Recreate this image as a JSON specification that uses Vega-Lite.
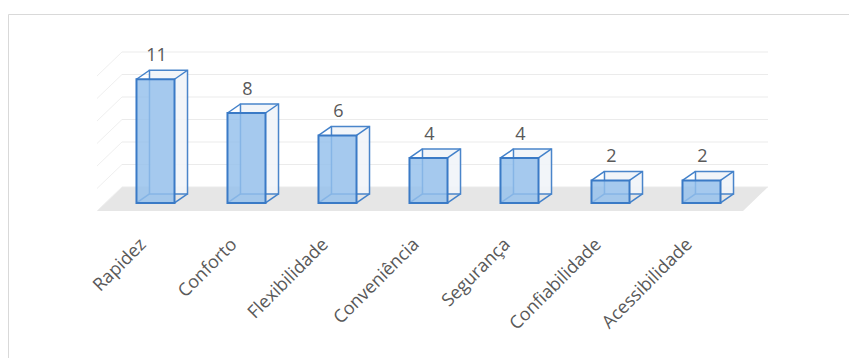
{
  "$schema": "https://vega.github.io/schema/vega-lite/v6.json",
  "autosize": "none",
  "width": 841,
  "height": 344,
  "padding": {"left": 8, "top": 14, "right": 0, "bottom": 0},
  "background": "#FFFFFF",
  "config": {
    "view": {"stroke": "#D9D9D9", "strokeWidth": 1},
    "axis": {"disable": true}
  },
  "datasets": {
    "main": [
      {"cat": "Rapidez", "v": 11},
      {"cat": "Conforto", "v": 8},
      {"cat": "Flexibilidade", "v": 6},
      {"cat": "Conveniência", "v": 4},
      {"cat": "Segurança", "v": 4},
      {"cat": "Confiabilidade", "v": 2},
      {"cat": "Acessibilidade", "v": 2}
    ],
    "grid": [{"g": 0}, {"g": 2}, {"g": 4}, {"g": 6}, {"g": 8}, {"g": 10}, {"g": 12}],
    "one": [{"k": 1}]
  },
  "data": {"name": "main"},
  "layer": [
    {
      "data": {"name": "one"},
      "mark": {"type": "point", "shape": "M -1 0.0358 L 0.9255 0.0358 L 1 -0.0358 L -0.9255 -0.0358 Z", "size": 450241, "filled": true, "fill": "#E6E6E6", "opacity": 1, "strokeWidth": 0, "xOffset": 4, "yOffset": -4},
      "encoding": {
        "x": {"datum": "Conveniência", "type": "nominal", "axis": null, "scale": {"type": "band", "domain": ["Rapidez", "Conforto", "Flexibilidade", "Conveniência", "Segurança", "Confiabilidade", "Acessibilidade"], "range": [102, 739], "paddingInner": 0.582, "paddingOuter": 0.291}},
        "y": {"datum": 0, "type": "quantitative", "axis": null, "scale": {"domain": [-13.78, 16.8], "nice": false, "zero": false}}
      }
    },
    {
      "data": {"name": "grid"},
      "mark": {"type": "rule", "stroke": "#EBEBEB", "strokeWidth": 1, "xOffset": -33.5, "x2Offset": 66.5, "yOffset": -16},
      "encoding": {
        "x": {"datum": "Rapidez", "type": "nominal"},
        "x2": {"datum": "Acessibilidade"},
        "y": {"field": "g", "type": "quantitative"}
      }
    },
    {
      "data": {"name": "grid"},
      "mark": {"type": "rule", "stroke": "#EFEFEF", "strokeWidth": 1, "xOffset": -58.5, "x2Offset": -33.5, "yOffset": 8, "y2Offset": -16},
      "encoding": {
        "x": {"datum": "Rapidez", "type": "nominal"},
        "x2": {"datum": "Rapidez"},
        "y": {"field": "g", "type": "quantitative"},
        "y2": {"field": "g"}
      }
    },
    {
      "mark": {"type": "bar", "fill": "#F1F4F8", "fillOpacity": 0.9, "stroke": "#4A85CA", "strokeWidth": 1.5, "xOffset": 13, "x2Offset": 13, "yOffset": -9, "y2Offset": -9},
      "encoding": {
        "x": {"field": "cat", "type": "nominal"},
        "y": {"field": "v", "type": "quantitative"},
        "y2": {"datum": 0}
      }
    },
    {
      "mark": {"type": "rule", "stroke": "#4281CA", "strokeWidth": 1.5, "xOffset": -19, "x2Offset": -6, "y2Offset": -9},
      "encoding": {
        "x": {"field": "cat", "type": "nominal"},
        "x2": {"field": "cat"},
        "y": {"field": "v", "type": "quantitative"},
        "y2": {"field": "v"}
      }
    },
    {
      "mark": {"type": "rule", "stroke": "#4281CA", "strokeWidth": 1.5, "xOffset": 19, "x2Offset": 32, "y2Offset": -9},
      "encoding": {
        "x": {"field": "cat", "type": "nominal"},
        "x2": {"field": "cat"},
        "y": {"field": "v", "type": "quantitative"},
        "y2": {"field": "v"}
      }
    },
    {
      "mark": {"type": "rule", "stroke": "#4281CA", "strokeWidth": 1.5, "xOffset": 19, "x2Offset": 32, "y2Offset": -9},
      "encoding": {
        "x": {"field": "cat", "type": "nominal"},
        "x2": {"field": "cat"},
        "y": {"datum": 0, "type": "quantitative"},
        "y2": {"datum": 0}
      }
    },
    {
      "mark": {"type": "rule", "stroke": "#4281CA", "strokeWidth": 1.5, "xOffset": -19, "x2Offset": -6, "y2Offset": -9},
      "encoding": {
        "x": {"field": "cat", "type": "nominal"},
        "x2": {"field": "cat"},
        "y": {"datum": 0, "type": "quantitative"},
        "y2": {"datum": 0}
      }
    },
    {
      "mark": {"type": "bar", "fill": "#94C0EC", "fillOpacity": 0.82, "stroke": "#3A7AC6", "strokeWidth": 2},
      "encoding": {
        "x": {"field": "cat", "type": "nominal"},
        "y": {"field": "v", "type": "quantitative"},
        "y2": {"datum": 0}
      }
    },
    {
      "mark": {"type": "text", "font": "Open Sans", "fontSize": 18, "fill": "#595959", "align": "center", "baseline": "alphabetic", "xOffset": 1, "yOffset": -18},
      "encoding": {
        "x": {"field": "cat", "type": "nominal"},
        "y": {"field": "v", "type": "quantitative"},
        "text": {"field": "v", "type": "quantitative"}
      }
    },
    {
      "mark": {"type": "text", "font": "Open Sans", "fontSize": 18, "fill": "#595959", "align": "right", "baseline": "middle", "angle": 315, "xOffset": -12, "yOffset": 39},
      "encoding": {
        "x": {"field": "cat", "type": "nominal"},
        "y": {"datum": 0, "type": "quantitative"},
        "text": {"field": "cat", "type": "nominal"}
      }
    }
  ]
}
